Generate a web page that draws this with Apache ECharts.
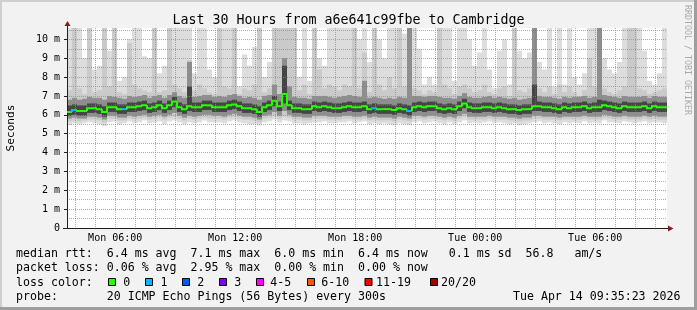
<!DOCTYPE html>
<html><head><meta charset="utf-8">
<script src="https://cdn.jsdelivr.net/npm/echarts@6/dist/echarts.min.js"></script>
<style>html,body{margin:0;padding:0;background:#f2f2f2}#c{width:697px;height:310px}</style>
</head><body><div id="c"></div>
<script>
// ---- time axis (hours since Mon 00:00) ----
const START_H = 3 + 35 / 60 + 23 / 3600;   // Mon 03:35:23
const SPAN_H = 30;
const STEP_H = 0.25;                       // one column per 15 min
const X_TICK_HOURS = [6, 12, 18, 24, 30];
const X_TICK_LABELS = ['Mon 06:00', 'Mon 12:00', 'Mon 18:00', 'Tue 00:00', 'Tue 06:00'];
const Y_LABEL_VALUES = [0, 1, 2, 3, 4, 5, 6, 7, 8, 9, 10];

// ---- median rtt (ms) ----
const MEDIAN = [
  6.15, 6.25, 6.2, 6.2, 6.35, 6.35, 6.3, 6.15, 6.4, 6.4,
  6.3, 6.3, 6.4, 6.4, 6.45, 6.5, 6.35, 6.4, 6.5, 6.35,
  6.5, 6.7, 6.4, 6.3, 6.45, 6.4, 6.4, 6.5, 6.5, 6.4,
  6.4, 6.4, 6.5, 6.55, 6.45, 6.35, 6.35, 6.3, 6.15, 6.4,
  6.5, 6.75, 6.45, 7.1, 6.5, 6.35, 6.35, 6.3, 6.3, 6.45,
  6.4, 6.45, 6.4, 6.35, 6.35, 6.4, 6.45, 6.4, 6.4, 6.45,
  6.3, 6.35, 6.3, 6.3, 6.3, 6.25, 6.35, 6.3, 6.2, 6.4,
  6.45, 6.4, 6.45, 6.45, 6.35, 6.3, 6.35, 6.3, 6.45, 6.6,
  6.4, 6.35, 6.35, 6.4, 6.4, 6.35, 6.4, 6.35, 6.3, 6.3,
  6.25, 6.3, 6.3, 6.45, 6.45, 6.4, 6.4, 6.35, 6.3, 6.4,
  6.35, 6.4, 6.4, 6.45, 6.35, 6.4, 6.4, 6.5, 6.45, 6.4,
  6.35, 6.45, 6.4, 6.4, 6.4, 6.45, 6.35, 6.45, 6.4, 6.4
];
// ---- lost pings per step (of 20) ----
const LOSS = [
  0, 1, 0, 0, 0, 0, 0, 0, 0, 0,
  0, 1, 0, 0, 0, 0, 0, 0, 0, 0,
  0, 0, 0, 0, 0, 0, 0, 0, 0, 0,
  0, 0, 0, 0, 0, 0, 0, 0, 0, 0,
  0, 0, 0, 0, 0, 0, 0, 0, 0, 0,
  0, 0, 0, 0, 0, 0, 0, 0, 0, 0,
  0, 1, 0, 0, 0, 0, 0, 0, 1, 0,
  0, 0, 0, 0, 0, 0, 0, 0, 0, 0,
  0, 0, 0, 0, 0, 0, 0, 0, 0, 0,
  0, 0, 0, 0, 0, 0, 0, 0, 0, 0,
  0, 0, 0, 0, 0, 0, 0, 0, 0, 0,
  0, 0, 0, 0, 0, 0, 0, 0, 0, 0
];
// ---- smoke: ping spread per step (ms), outer to inner ----
const HI1 = [
  10.6, 10.6, 10.6, 9.0, 10.6, 8.4, 8.6, 10.6, 9.4, 10.6,
  7.8, 8.0, 10.0, 10.6, 10.6, 9.1, 9.0, 10.6, 8.2, 8.6,
  10.6, 10.6, 10.6, 10.6, 10.6, 8.2, 10.6, 10.6, 8.4, 8.0,
  10.6, 10.6, 10.6, 10.6, 7.5, 9.2, 8.6, 9.6, 10.6, 8.0,
  8.8, 10.6, 10.6, 10.6, 10.6, 10.6, 8.0, 10.6, 7.8, 10.6,
  9.0, 8.6, 10.6, 10.6, 10.6, 10.6, 10.6, 10.6, 10.0, 10.6,
  8.8, 10.6, 10.0, 9.0, 10.6, 10.6, 10.6, 10.3, 10.6, 10.6,
  9.5, 7.6, 8.0, 7.6, 10.6, 10.6, 10.6, 7.8, 10.6, 10.6,
  10.0, 8.6, 9.3, 10.6, 8.4, 7.4, 9.4, 10.0, 7.6, 10.6,
  9.4, 9.0, 9.3, 10.6, 8.8, 8.4, 10.6, 7.5, 10.6, 7.6,
  10.6, 8.0, 7.6, 8.2, 10.6, 10.6, 10.6, 9.0, 8.4, 8.2,
  8.8, 10.6, 10.6, 10.6, 10.6, 9.4, 7.8, 7.6, 8.2, 10.6
];
const HI2 = [
  7.3, 10.6, 7.4, 7.1, 10.6, 7.2, 7.3, 10.6, 7.5, 10.6,
  7.2, 7.1, 9.8, 7.6, 7.4, 7.3, 7.2, 10.6, 7.2, 7.3,
  10.6, 7.6, 7.4, 7.2, 8.9, 7.3, 7.6, 7.4, 7.2, 7.1,
  10.6, 7.5, 7.4, 10.6, 7.1, 7.4, 7.3, 7.6, 10.6, 7.2,
  7.4, 10.6, 10.6, 10.6, 10.6, 10.6, 7.3, 7.6, 7.1, 10.6,
  8.4, 7.4, 7.6, 7.5, 7.3, 7.6, 7.5, 10.6, 7.4, 9.3,
  7.2, 10.6, 7.6, 7.3, 8.0, 7.4, 10.6, 7.5, 10.6, 7.4,
  7.3, 7.1, 7.3, 7.2, 10.6, 7.6, 7.4, 7.1, 7.5, 7.6,
  7.4, 7.2, 7.3, 7.6, 7.2, 7.1, 7.4, 7.5, 7.0, 10.6,
  7.3, 7.2, 7.4, 10.6, 7.4, 7.2, 7.5, 7.1, 7.6, 7.2,
  7.5, 7.2, 7.0, 7.3, 9.0, 7.5, 10.6, 7.4, 7.2, 7.1,
  7.3, 7.5, 10.6, 10.6, 7.4, 7.3, 7.1, 7.2, 7.3, 7.4
];
const HI3 = [
  6.8, 6.9, 6.8, 6.85, 6.95, 6.9, 6.9, 6.8, 7.0, 6.95,
  6.9, 6.85, 7.0, 6.95, 7.0, 7.05, 6.9, 7.0, 7.05, 6.9,
  7.05, 7.2, 7.0, 6.9, 8.8, 6.95, 7.0, 7.05, 7.05, 6.95,
  7.0, 6.95, 7.05, 7.1, 7.0, 6.9, 6.95, 6.9, 6.8, 7.0,
  7.05, 7.6, 7.1, 9.0, 7.5, 6.95, 6.9, 6.9, 6.85, 7.0,
  7.0, 7.0, 6.95, 6.9, 6.95, 7.0, 7.05, 7.0, 6.95, 7.8,
  6.9, 6.95, 6.9, 6.85, 6.9, 6.85, 6.95, 6.9, 10.6, 7.0,
  7.0, 6.95, 7.0, 7.0, 6.95, 6.9, 6.9, 6.85, 7.0, 7.15,
  6.95, 6.9, 6.9, 6.95, 7.0, 6.9, 6.95, 6.9, 6.85, 6.9,
  6.8, 6.85, 6.9, 10.6, 7.0, 6.95, 6.95, 6.9, 6.85, 6.95,
  6.9, 6.95, 6.95, 7.0, 6.9, 6.95, 10.6, 7.05, 7.0, 6.95,
  6.9, 7.0, 6.95, 6.95, 6.95, 7.0, 6.9, 7.0, 6.95, 6.95
];
const HI4 = [
  6.5, 6.55, 6.5, 6.5, 6.6, 6.6, 6.55, 6.45, 6.65, 6.65,
  6.55, 6.55, 6.65, 6.65, 6.7, 6.75, 6.6, 6.65, 6.75, 6.6,
  6.75, 6.95, 6.65, 6.55, 7.5, 6.65, 6.65, 6.75, 6.75, 6.65,
  6.65, 6.65, 6.75, 6.8, 6.7, 6.6, 6.6, 6.55, 6.45, 6.65,
  6.75, 7.0, 6.7, 8.6, 6.75, 6.6, 6.6, 6.55, 6.55, 6.7,
  6.65, 6.7, 6.65, 6.6, 6.6, 6.65, 6.7, 6.65, 6.65, 6.7,
  6.55, 6.6, 6.55, 6.55, 6.55, 6.5, 6.6, 6.55, 6.5, 6.65,
  6.7, 6.65, 6.7, 6.7, 6.6, 6.55, 6.6, 6.55, 6.7, 6.85,
  6.65, 6.6, 6.6, 6.65, 6.65, 6.6, 6.65, 6.6, 6.55, 6.55,
  6.5, 6.55, 6.55, 7.6, 6.7, 6.65, 6.65, 6.6, 6.55, 6.65,
  6.6, 6.65, 6.65, 6.7, 6.6, 6.65, 6.8, 6.75, 6.7, 6.65,
  6.6, 6.7, 6.65, 6.65, 6.65, 6.7, 6.6, 6.7, 6.65, 6.65
];
const LO4 = [
  5.95, 6.0, 5.95, 5.95, 6.1, 6.1, 6.05, 5.9, 6.15, 6.15,
  6.05, 6.05, 6.15, 6.15, 6.2, 6.25, 6.1, 6.15, 6.25, 6.1,
  6.25, 6.4, 6.15, 6.05, 6.2, 6.15, 6.15, 6.25, 6.25, 6.15,
  6.15, 6.15, 6.25, 6.3, 6.2, 6.1, 6.1, 6.05, 5.9, 6.15,
  6.25, 6.45, 6.2, 6.6, 6.25, 6.1, 6.1, 6.05, 6.05, 6.2,
  6.15, 6.2, 6.15, 6.1, 6.1, 6.15, 6.2, 6.15, 6.15, 6.2,
  6.05, 6.1, 6.05, 6.05, 6.05, 6.0, 6.1, 6.05, 5.95, 6.15,
  6.2, 6.15, 6.2, 6.2, 6.1, 6.05, 6.1, 6.05, 6.2, 6.35,
  6.15, 6.1, 6.1, 6.15, 6.15, 6.1, 6.15, 6.1, 6.05, 6.05,
  6.0, 6.05, 6.05, 6.2, 6.2, 6.15, 6.15, 6.1, 6.05, 6.15,
  6.1, 6.15, 6.15, 6.2, 6.1, 6.15, 6.15, 6.25, 6.2, 6.15,
  6.1, 6.2, 6.15, 6.15, 6.15, 6.2, 6.1, 6.2, 6.15, 6.15
];
const LO3 = [
  5.8, 5.85, 5.8, 5.8, 5.9, 5.9, 5.85, 5.75, 5.95, 5.95,
  5.85, 5.85, 5.95, 5.9, 5.95, 6.0, 5.9, 5.95, 6.0, 5.9,
  6.0, 6.1, 5.95, 5.85, 5.95, 5.9, 5.95, 6.0, 6.0, 5.95,
  5.95, 5.9, 6.0, 6.05, 5.95, 5.9, 5.9, 5.85, 5.75, 5.95,
  6.0, 6.15, 5.95, 6.2, 6.0, 5.9, 5.9, 5.85, 5.85, 5.95,
  5.95, 5.95, 5.9, 5.9, 5.9, 5.95, 5.95, 5.9, 5.9, 5.95,
  5.85, 5.9, 5.85, 5.85, 5.85, 5.8, 5.9, 5.85, 5.8, 5.95,
  5.95, 5.9, 5.95, 5.95, 5.9, 5.85, 5.9, 5.85, 5.95, 6.05,
  5.9, 5.9, 5.9, 5.9, 5.95, 5.9, 5.9, 5.9, 5.85, 5.85,
  5.8, 5.85, 5.85, 5.95, 5.95, 5.9, 5.9, 5.9, 5.85, 5.9,
  5.9, 5.9, 5.9, 5.95, 5.9, 5.9, 5.9, 6.0, 5.95, 5.9,
  5.9, 5.95, 5.9, 5.9, 5.9, 5.95, 5.9, 5.95, 5.9, 5.9
];
const LO2 = [
  5.65, 5.7, 5.65, 5.7, 5.75, 5.75, 5.7, 5.6, 5.8, 5.8,
  5.7, 5.7, 5.8, 5.75, 5.8, 5.85, 5.75, 5.8, 5.85, 5.75,
  5.85, 5.9, 5.8, 5.7, 5.8, 5.75, 5.8, 5.85, 5.8, 5.8,
  5.8, 5.75, 5.85, 5.9, 5.8, 5.75, 5.75, 5.7, 5.6, 5.8,
  5.85, 5.95, 5.8, 5.9, 5.85, 5.75, 5.75, 5.7, 5.7, 5.8,
  5.8, 5.8, 5.75, 5.75, 5.75, 5.8, 5.8, 5.75, 5.75, 5.8,
  5.7, 5.75, 5.7, 5.7, 5.7, 5.65, 5.75, 5.7, 5.65, 5.8,
  5.8, 5.75, 5.8, 5.8, 5.75, 5.7, 5.75, 5.7, 5.8, 5.9,
  5.75, 5.75, 5.75, 5.75, 5.8, 5.75, 5.75, 5.75, 5.7, 5.7,
  5.65, 5.7, 5.7, 5.8, 5.8, 5.75, 5.75, 5.75, 5.7, 5.75,
  5.75, 5.75, 5.75, 5.8, 5.75, 5.75, 5.75, 5.85, 5.8, 5.75,
  5.75, 5.8, 5.75, 5.75, 5.75, 5.8, 5.75, 5.8, 5.75, 5.75
];
const LO1 = [
  5.45, 5.55, 5.5, 5.55, 5.6, 5.55, 5.5, 5.4, 5.6, 5.65,
  5.5, 5.55, 5.65, 5.55, 5.6, 5.7, 5.55, 5.6, 5.65, 5.5,
  5.65, 5.7, 5.6, 5.5, 5.6, 5.55, 5.6, 5.7, 5.6, 5.6,
  5.6, 5.55, 5.65, 5.7, 5.6, 5.55, 5.5, 5.5, 5.45, 5.6,
  5.65, 5.75, 5.6, 5.7, 5.65, 5.55, 5.55, 5.5, 5.55, 5.6,
  5.6, 5.65, 5.55, 5.55, 5.6, 5.6, 5.65, 5.55, 5.6, 5.65,
  5.5, 5.55, 5.5, 5.55, 5.5, 5.45, 5.55, 5.5, 5.45, 5.6,
  5.65, 5.55, 5.6, 5.65, 5.55, 5.5, 5.6, 5.5, 5.6, 5.7,
  5.55, 5.6, 5.55, 5.6, 5.65, 5.55, 5.6, 5.55, 5.5, 5.55,
  5.45, 5.5, 5.55, 5.6, 5.65, 5.55, 5.6, 5.55, 5.5, 5.6,
  5.55, 5.6, 5.55, 5.65, 5.55, 5.6, 5.55, 5.7, 5.6, 5.6,
  5.55, 5.65, 5.6, 5.55, 5.6, 5.65, 5.55, 5.6, 5.6, 5.55
];

// ---- legend text ----
const TITLE = 'Last 30 Hours from a6e641c99fbe to Cambridge';
const LEGEND_LINES = [
  'median rtt:  6.4 ms avg  7.1 ms max  6.0 ms min  6.4 ms now   0.1 ms sd  56.8   am/s',
  'packet loss: 0.06 % avg  2.95 % max  0.00 % min  0.00 % now',
  'loss color:',
  'probe:       20 ICMP Echo Pings (56 Bytes) every 300s'
];
const LOSS_LABELS = ['0', '1', '2', '3', '4-5', '6-10', '11-19', '20/20'];
const LOSS_COLORS = ['#26ff00', '#00b8ff', '#0059ff', '#7e00ff', '#ff00ff', '#ff5500', '#ff0000', '#a10000'];
const DATE_TEXT = 'Tue Apr 14 09:35:23 2026';

// ---- layout / style ----
const FONT = "'DejaVu Sans Mono', monospace";
const G = { left: 67, top: 28, width: 600, height: 200 };
const GRID_C = 'rgba(143,143,143,0.75)';
const MGRID_C = 'rgba(222,79,79,0.6)';
const BAND_COLORS = ['#dddddd', '#cacaca', '#8e8e8e', '#454545'];
const LEGEND_Y = [254, 268, 282.5, 296.5];
const BOX_X = [108.5, 145.5, 182.5, 219.5, 256.5, 307.5, 365, 430.5];
const BOX_LABEL_X = [123.3, 160.6, 197.3, 234.3, 270.3, 321.3, 376, 441];

function lossColor(n) {
  if (n <= 0) return LOSS_COLORS[0];
  if (n === 1) return LOSS_COLORS[1];
  if (n === 2) return LOSS_COLORS[2];
  if (n === 3) return LOSS_COLORS[3];
  if (n <= 5) return LOSS_COLORS[4];
  if (n <= 10) return LOSS_COLORS[5];
  if (n <= 19) return LOSS_COLORS[6];
  return LOSS_COLORS[7];
}

const hourTicks = [];
for (let h = Math.ceil(START_H); h <= START_H + SPAN_H; h++) hourTicks.push(h);

const tOf = i => START_H + (i + 0.5) * STEP_H;
const smokeData = MEDIAN.map((m, i) => [tOf(i), LO1[i], HI1[i], LO2[i], HI2[i], LO3[i], HI3[i], LO4[i], HI4[i]]);
const medData = MEDIAN.map((m, i) => [tOf(i), m, i ? MEDIAN[i - 1] : m, LOSS[i]]);

const chart = echarts.init(document.getElementById('c'), null, { renderer: 'canvas', width: 697, height: 310 });

const graphic = [
  { type: 'rect', z: 50, shape: { x: 0, y: 0, width: 697, height: 2 }, style: { fill: '#cfcfcf' } },
  { type: 'rect', z: 50, shape: { x: 0, y: 0, width: 2, height: 310 }, style: { fill: '#cfcfcf' } },
  { type: 'rect', z: 51, shape: { x: 0, y: 307, width: 697, height: 3 }, style: { fill: '#9e9e9e' } },
  { type: 'rect', z: 51, shape: { x: 694, y: 0, width: 3, height: 310 }, style: { fill: '#9e9e9e' } },
  // axis extensions + arrows
  { type: 'line', z: 60, shape: { x1: 67.5, y1: 22, x2: 67.5, y2: 28 }, style: { stroke: '#1f1f1f', lineWidth: 1 } },
  { type: 'line', z: 60, shape: { x1: 63, y1: 228.5, x2: 67, y2: 228.5 }, style: { stroke: '#1f1f1f', lineWidth: 1 } },
  { type: 'line', z: 60, shape: { x1: 667, y1: 228.5, x2: 669, y2: 228.5 }, style: { stroke: '#1f1f1f', lineWidth: 1 } },
  { type: 'polygon', z: 61, shape: { points: [[64.5, 26], [67.5, 21], [70.5, 26]] }, style: { fill: '#801f1f' } },
  { type: 'polygon', z: 61, shape: { points: [[668, 225.5], [673.5, 228.5], [668, 231.5]] }, style: { fill: '#801f1f' } },
  // y unit
  { type: 'text', z: 60, x: 11, y: 128, rotation: Math.PI / 2,
    style: { text: 'Seconds', font: '11.2px ' + FONT, fill: '#000', align: 'center', verticalAlign: 'middle' } },
  // watermark
  { type: 'text', z: 60, x: 687.5, y: 60, rotation: -Math.PI / 2,
    style: { text: 'RRDTOOL / TOBI OETIKER', font: '8.3px ' + FONT, fill: '#a9a9a9', align: 'center', verticalAlign: 'middle' } },
  { type: 'text', z: 60, x: 680.5, y: LEGEND_Y[3],
    style: { text: DATE_TEXT, font: '11.6px ' + FONT, fill: '#000', align: 'right', verticalAlign: 'middle' } }
];
LEGEND_LINES.forEach((t, k) => graphic.push({ type: 'text', z: 60, x: 16, y: LEGEND_Y[k],
  style: { text: t, font: '11.6px ' + FONT, fill: '#000', align: 'left', verticalAlign: 'middle' } }));
LOSS_LABELS.forEach((lab, k) => {
  graphic.push({ type: 'rect', z: 60, shape: { x: BOX_X[k], y: 278.5, width: 7, height: 7 },
    style: { fill: LOSS_COLORS[k], stroke: '#000', lineWidth: 1 } });
  graphic.push({ type: 'text', z: 60, x: BOX_LABEL_X[k], y: LEGEND_Y[2],
    style: { text: lab, font: '11.6px ' + FONT, fill: '#000', align: 'left', verticalAlign: 'middle' } });
});

chart.setOption({
  animation: false,
  backgroundColor: '#f2f2f2',
  title: { text: TITLE, left: 'center', top: 9,
    textStyle: { fontFamily: FONT, fontSize: 13.3, fontWeight: 'normal', color: '#000' } },
  grid: { left: G.left, top: G.top, width: G.width, height: G.height, show: true, backgroundColor: '#ffffff', borderWidth: 0 },
  xAxis: {
    type: 'value', min: START_H, max: START_H + SPAN_H, z: 3,
    axisLine: { show: true, onZero: false, lineStyle: { color: '#1f1f1f', width: 1 } },
    axisTick: { show: false, customValues: hourTicks },
    axisLabel: { customValues: X_TICK_HOURS, margin: 5, color: '#000', fontFamily: FONT, fontSize: 10,
      formatter: v => { const k = X_TICK_HOURS.indexOf(Math.round(v)); return k >= 0 ? X_TICK_LABELS[k] : ''; } },
    splitLine: { show: true, lineStyle: { color: [GRID_C, GRID_C, MGRID_C], type: [1, 1], width: 1 } }
  },
  yAxis: [{
    type: 'value', min: 0, max: 10.6, interval: 0.5, z: 3,
    axisLine: { show: true, lineStyle: { color: '#1f1f1f', width: 1 } },
    axisTick: { show: false },
    axisLabel: { margin: 7, color: '#000', fontFamily: FONT, fontSize: 10, showMaxLabel: false,
      formatter: v => (Math.abs(v - Math.round(v)) > 1e-6 ? '' : (Y_LABEL_VALUES.indexOf(Math.round(v)) < 0 ? '' : (v === 0 ? '0' : Math.round(v) + ' m'))) },
    splitLine: { show: true, showMinLine: false, showMaxLine: false, lineStyle: { color: [MGRID_C, GRID_C], type: [1, 1], width: 1 } }
  }, {
    type: 'value', min: 0, max: 10.6, position: 'left', z: 3,
    axisLine: { show: false }, axisLabel: { show: false }, splitLine: { show: false },
    axisTick: { show: true, customValues: Y_LABEL_VALUES, length: 3, lineStyle: { color: '#1f1f1f' } }
  }],
  series: [{
    type: 'custom', name: 'smoke', z: 1, clip: true,
    data: smokeData,
    encode: { x: 0, y: [1, 2] },
    renderItem: (params, api) => {
      const t = api.value(0);
      const xa = Math.round(api.coord([t - STEP_H / 2, 0])[0]);
      const xb = Math.round(api.coord([t + STEP_H / 2, 0])[0]);
      const children = [];
      for (let b = 0; b < 4; b++) {
        const yHi = api.coord([t, api.value(2 + 2 * b)])[1];
        const yLo = api.coord([t, api.value(1 + 2 * b)])[1];
        children.push({ type: 'rect', shape: { x: xa, y: yHi, width: xb - xa, height: yLo - yHi },
          style: { fill: BAND_COLORS[b] } });
      }
      return { type: 'group', children };
    }
  }, {
    type: 'custom', name: 'median', z: 5, clip: true,
    data: medData,
    encode: { x: 0, y: 1 },
    renderItem: (params, api) => {
      const t = api.value(0);
      const xa = api.coord([t - STEP_H / 2, 0])[0];
      const xb = api.coord([t + STEP_H / 2, 0])[0];
      const y = api.coord([t, api.value(1)])[1];
      const yp = api.coord([t, api.value(2)])[1];
      return { type: 'polyline', shape: { points: [[xa, yp], [xa, y], [xb, y]] },
        style: { stroke: lossColor(api.value(3)), lineWidth: 2, fill: null } };
    }
  }],
  graphic: graphic
});
</script></body></html>
